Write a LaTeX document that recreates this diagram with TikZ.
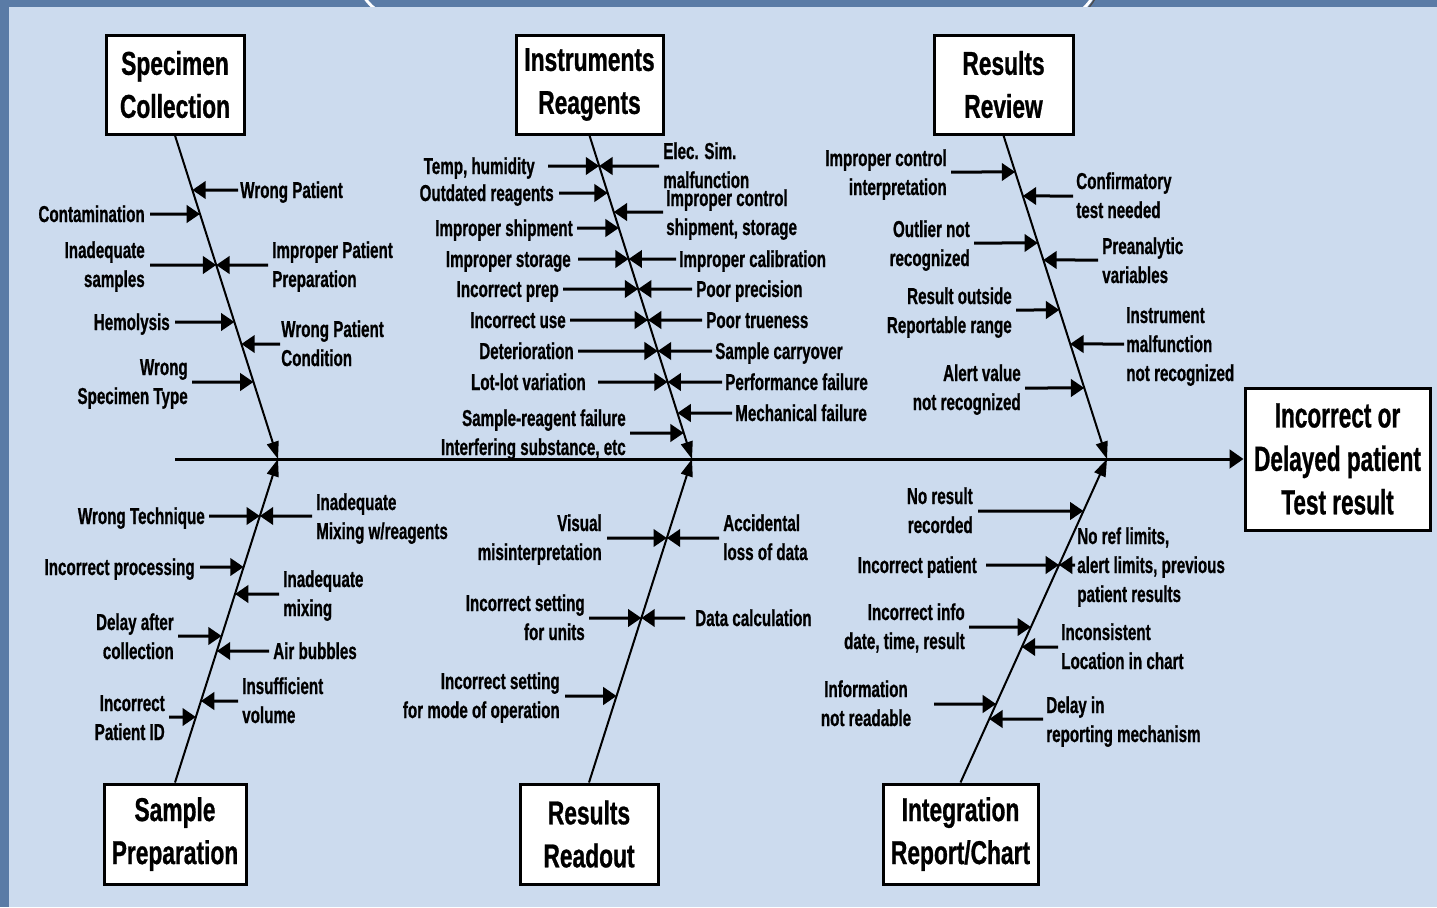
\documentclass[tikz,border=0pt]{standalone}
\usepackage{fontspec}
\setmainfont{Liberation Sans}
\newfontfamily\causefam{Liberation Sans}[FakeStretch=0.66, BoldFeatures={FakeBold=0.8}]
\newfontfamily\headfam{Liberation Sans}[FakeStretch=0.69, BoldFeatures={FakeBold=0.8}]
\newfontfamily\effectfam{Liberation Sans}[FakeStretch=0.645, BoldFeatures={FakeBold=0.8}]
\usetikzlibrary{arrows.meta}

\definecolor{slate}{HTML}{5A7BA6}
\definecolor{panel}{HTML}{CCDBEE}

\newcommand\causefont{\causefam\fontsize{17.25}{21.75}\selectfont\bfseries}
\newcommand\headfont{\headfam\fontsize{24.75}{32.25}\selectfont\bfseries}
\newcommand\effectfont{\effectfam\fontsize{26.25}{32.6}\selectfont\bfseries}

% arrow from a label towards bone #1 (coordinates #11 and #12), starting at x=#2, height y=#3
\newcommand\cause[3]{\draw[sub] (#2,#3) -- (intersection cs: first line={(#11)--(#12)}, second line={(0,#3)--(10,#3)});}

\begin{document}
\begin{tikzpicture}[x=0.75pt,y=-0.75pt,
  box/.style={draw=black, line width=2.25pt, fill=white, align=center, font=\headfont, inner sep=0pt},
  lab/.style={font=\causefont, inner sep=0pt},
  labL/.style={lab, anchor=base east, align=right},
  labR/.style={lab, anchor=base west, align=left},
  sub/.style={line width=2.25pt, -{Triangle[length=10pt,width=13pt]}},
  bone/.style={line width=1.5pt, -{Triangle[length=13pt,width=9pt]}},
  spine/.style={line width=2.25pt, -{Triangle[length=10.5pt,width=14pt]}}]

\useasboundingbox (0,0) rectangle (1437,907);

% backdrop: slide frame and light panel
\fill[slate] (0,0) rectangle (1437,907);
\draw[white, line width=2.2pt] (364,-3) .. controls (369,4) and (373,8) .. (380,12);
\draw[white, line width=2.2pt] (1093,-3) .. controls (1088,4) and (1085,8) .. (1079,12);
\draw[black!70, line width=1pt] (1096,-3) .. controls (1092,4) and (1089,8) .. (1084,12);
\fill[panel] (9,7) rectangle (1437,907);

% category boxes
\node[box, minimum width=103.5pt, minimum height=74.25pt] (spec) at (175,84.5) {Specimen\\Collection};
\node[box, minimum width=110.25pt, minimum height=74.25pt] (instr) at (589.5,84.5) {Instruments\\Reagents};
\node[box, minimum width=104.25pt, minimum height=74.25pt] (review) at (1003.5,84.5) {Results\\Review};
\node[box, minimum width=106.5pt, minimum height=75pt] (prep) at (175,834) {Sample\\Preparation};
\node[box, minimum width=103.5pt, minimum height=75pt] (readout) at (589,834) {Results\\Readout};
\node[box, minimum width=116.25pt, minimum height=75pt] (integ) at (960.5,834) {Integration\\Report/Chart};
\node[box, font=\effectfont, minimum width=138.75pt, minimum height=106.5pt] (effect) at (1337.5,459) {Incorrect or\\Delayed patient\\Test result};

% spine and bones
\coordinate (tail) at (175,459);
\coordinate (j1) at (278,459);
\coordinate (j2) at (692,459);
\coordinate (j3) at (1107,459);
\draw[spine] (tail) -- (effect.west);

\coordinate (A1) at (spec.south);   \coordinate (A2) at (j1);
\coordinate (B1) at (instr.south);  \coordinate (B2) at (j2);
\coordinate (C1) at (review.south); \coordinate (C2) at (j3);
\coordinate (D1) at (prep.north);   \coordinate (D2) at (j1);
\coordinate (E1) at (readout.north);\coordinate (E2) at (j2);
\coordinate (F1) at (integ.north);  \coordinate (F2) at (j3);

\draw[bone] (spec.south) -- (j1);
\draw[bone] (instr.south) -- (j2);
\draw[bone] (review.south) -- (j3);
\draw[bone] (prep.north) -- (j1);
\draw[bone] (readout.north) -- (j2);
\draw[bone] (integ.north) -- (j3);

% Specimen Collection (multi-line labels are placed by the baseline of their last line)
\node[labL] (a1) at (145,222) {Contamination};
\node[labL] (a2) at (145,287) {Inadequate\\samples};
\node[labL] (a3) at (170,330) {Hemolysis};
\node[labL] (a4) at (188,404) {Wrong\\Specimen Type};
\node[labR] (a5) at (240,198) {Wrong Patient};
\node[labR] (a6) at (272,287) {Improper Patient\\Preparation};
\node[labR] (a7) at (281,366) {Wrong Patient\\Condition};
\cause{A}{150}{214}
\cause{A}{150}{265}
\cause{A}{175}{322}
\cause{A}{192}{382}
\cause{A}{238}{190}
\cause{A}{268}{265}
\cause{A}{280}{344}

% Instruments / Reagents
\node[labL] (b1) at (535,174) {Temp, humidity};
\node[labL] (b2) at (554,201) {Outdated reagents};
\node[labL] (b3) at (573,236) {Improper shipment};
\node[labL] (b4) at (571,267) {Improper storage};
\node[labL] (b5) at (559,297) {Incorrect prep};
\node[labL] (b6) at (566,328) {Incorrect use};
\node[labL] (b7) at (574,359) {Deterioration};
\node[labL] (b8) at (586,390) {Lot-lot variation};
\node[labL] (b9) at (626,455) {Sample-reagent failure\\Interfering substance, etc};
\node[labR] (b10) at (663,188) {Elec. Sim.\\malfunction};
\node[labR] (b11) at (666,235) {Improper control\\shipment, storage};
\node[labR] (b12) at (679,267) {Improper calibration};
\node[labR] (b13) at (696,297) {Poor precision};
\node[labR] (b14) at (706,328) {Poor trueness};
\node[labR] (b15) at (715,359) {Sample carryover};
\node[labR] (b16) at (725,390) {Performance failure};
\node[labR] (b17) at (735,421) {Mechanical failure};
\cause{B}{548}{166}
\cause{B}{559}{193}
\cause{B}{577}{228}
\cause{B}{578}{259}
\cause{B}{563}{289}
\cause{B}{570}{320}
\cause{B}{578}{351}
\cause{B}{598}{382}
\cause{B}{630}{433}
\cause{B}{659}{166}
\cause{B}{663}{212}
\cause{B}{676}{259}
\cause{B}{692}{289}
\cause{B}{702}{320}
\cause{B}{712}{351}
\cause{B}{722}{382}
\cause{B}{732}{413}

% Results Review
\node[labL] (c1) at (947,195) {Improper control\\interpretation};
\node[labL] (c2) at (970,266) {Outlier not\\recognized};
\node[labL] (c3) at (1012,333) {Result outside\\Reportable range};
\node[labL] (c4) at (1021,410) {Alert value\\not recognized};
\node[labR] (c5) at (1076,218) {Confirmatory\\test needed};
\node[labR] (c6) at (1102,283) {Preanalytic\\variables};
\node[labR] (c7) at (1126,381) {Instrument\\malfunction\\not recognized};
\cause{C}{951}{172}
\cause{C}{974}{243}
\cause{C}{1016}{310}
\cause{C}{1025}{388}
\cause{C}{1073}{196}
\cause{C}{1098}{260}
\cause{C}{1124}{344}

% Sample Preparation
\node[labL] (d1) at (205,524) {Wrong Technique};
\node[labL] (d2) at (195,575) {Incorrect processing};
\node[labL] (d3) at (174,659) {Delay after\\collection};
\node[labL] (d4) at (165,740) {Incorrect\\Patient ID};
\node[labR] (d5) at (316,539) {Inadequate\\Mixing w/reagents};
\node[labR] (d6) at (283,616) {Inadequate\\mixing};
\node[labR] (d7) at (273,659) {Air bubbles};
\node[labR] (d8) at (242,723) {Insufficient\\volume};
\cause{D}{209}{516}
\cause{D}{200}{567}
\cause{D}{178}{636}
\cause{D}{169}{717}
\cause{D}{312}{516}
\cause{D}{279}{594}
\cause{D}{269}{651}
\cause{D}{238}{701}

% Results Readout
\node[labL] (e1) at (602,560) {Visual\\misinterpretation};
\node[labL] (e2) at (585,640) {Incorrect setting\\for units};
\node[labL] (e3) at (560,718) {Incorrect setting\\for mode of operation};
\node[labR] (e4) at (723,560) {Accidental\\loss of data};
\node[labR] (e5) at (695,626) {Data calculation};
\cause{E}{607}{538}
\cause{E}{589}{618}
\cause{E}{565}{696}
\cause{E}{719}{538}
\cause{E}{685}{618}

% Integration / Report / Chart
\node[labL] (f1) at (973,533) {No result\\recorded};
\node[labL] (f2) at (977,573) {Incorrect patient};
\node[labL] (f3) at (965,649) {Incorrect info\\date, time, result};
\node[lab, anchor=base, align=center] (f4) at (866,726) {Information\\not readable};
\node[labR] (f5) at (1077,602) {No ref limits,\\alert limits, previous\\patient results};
\node[labR] (f6) at (1061,669) {Inconsistent\\Location in chart};
\node[labR] (f7) at (1046,742) {Delay in\\reporting mechanism};
\cause{F}{978}{511}
\cause{F}{986}{565}
\cause{F}{969}{627}
\cause{F}{934}{704}
\cause{F}{1075}{565}
\cause{F}{1058}{647}
\cause{F}{1043}{719}

\end{tikzpicture}
\end{document}
